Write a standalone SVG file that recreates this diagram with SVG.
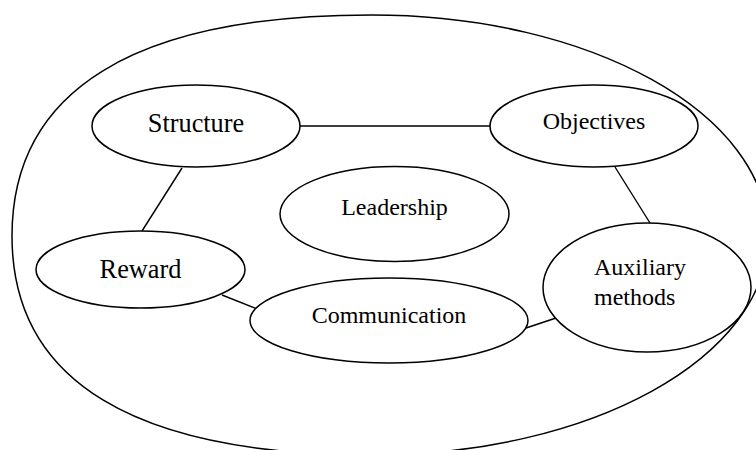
<svg xmlns="http://www.w3.org/2000/svg" width="756" height="450" viewBox="0 0 756 450">
<style>
.n{fill:#fff;stroke:#000;stroke-width:1.5}
.c line{stroke:#000;stroke-width:1.4}
text{font-family:"Liberation Serif","Times New Roman",serif;fill:#000}
.m{text-anchor:middle;font-size:24px}
.b{text-anchor:middle;font-size:26.3px}
.l{font-size:24px}
</style>
<rect width="756" height="450" fill="#fff"/>
<g id="outer">
<path d="M372,15 C590.7,15 768,113.9 768,236 C768,357.5 590.7,455 372,455 C134.4,455 12,381.2 12,236 C12,90.1 134.4,15 372,15 Z" fill="none" stroke="#000" stroke-width="1.5"/>
</g>
<g class="c" id="connectors">
<line x1="300" y1="126" x2="490" y2="126"/>
<line x1="182" y1="168" x2="142" y2="231"/>
<line x1="615" y1="167" x2="650" y2="223"/>
<line x1="222" y1="295" x2="257" y2="309"/>
<line x1="526" y1="328" x2="556" y2="318"/>
</g>
<g id="structure">
<ellipse class="n" cx="196" cy="126" rx="104" ry="41"/>
<text class="b" x="196" y="132">Structure</text>
</g>
<g id="objectives">
<ellipse class="n" cx="594" cy="126" rx="104" ry="41"/>
<text class="m" x="594" y="129">Objectives</text>
</g>
<g id="leadership">
<ellipse class="n" cx="394.5" cy="214" rx="114.5" ry="47.5"/>
<text class="m" x="394.5" y="215">Leadership</text>
</g>
<g id="reward">
<ellipse class="n" cx="140.5" cy="269.5" rx="104.5" ry="38.5"/>
<text class="b" x="140.5" y="278">Reward</text>
</g>
<g id="communication">
<ellipse class="n" cx="389" cy="320.5" rx="139" ry="42.5"/>
<text class="m" x="389" y="323">Communication</text>
</g>
<g id="auxiliary">
<ellipse class="n" cx="647" cy="287.5" rx="104" ry="64.5"/>
<text class="l" x="594" y="275">Auxiliary</text>
<text class="l" x="594" y="305">methods</text>
</g>
</svg>
